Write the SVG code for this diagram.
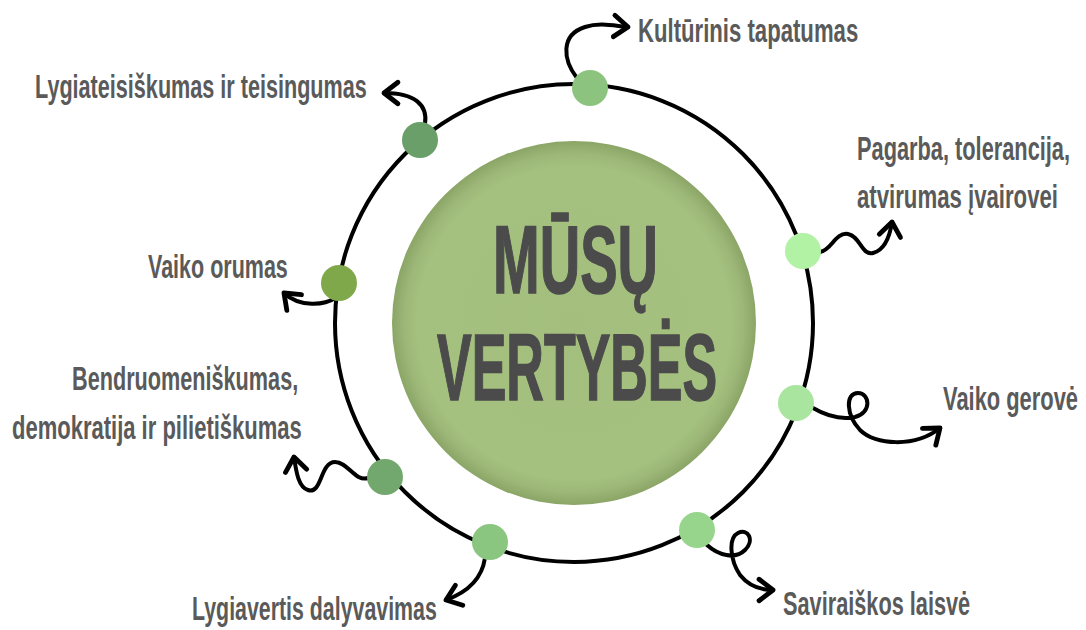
<svg xmlns="http://www.w3.org/2000/svg" width="1086" height="630" viewBox="0 0 1086 630">
<style>
.lbl{font-family:"Liberation Sans",Arial,sans-serif;font-weight:bold;font-size:34px;fill:#5a5a5a}
.big{font-family:"Liberation Sans",Arial,sans-serif;font-weight:bold;fill:#4b4b4b;stroke:#4b4b4b;stroke-width:1.5}
.con{fill:none;stroke:#000;stroke-width:4;stroke-linecap:round;stroke-linejoin:round}
.dot{stroke:none}
</style>
<defs>
<radialGradient id="g" cx="0.5" cy="0.5" r="0.5">
<stop offset="0" stop-color="#a4bf7d"/>
<stop offset="0.86" stop-color="#a5c17f"/>
<stop offset="0.93" stop-color="#9cb777"/>
<stop offset="1" stop-color="#8aa565"/>
</radialGradient>
<marker id="ah" markerUnits="userSpaceOnUse" markerWidth="30" markerHeight="30" viewBox="-16 -14 20 28" refX="0" refY="0" orient="auto">
<path d="M-13,-10 L0,0 L-13,10" fill="none" stroke="#000" stroke-width="4.5" stroke-linecap="round" stroke-linejoin="round"/>
</marker>
</defs>
<rect width="1086" height="630" fill="#fff"/>
<g id="ring">
<circle cx="574" cy="323" r="239" fill="none" stroke="#000" stroke-width="4"/>
</g>
<g id="center">
<circle cx="574" cy="323" r="182" fill="url(#g)"/>
<text class="big" transform="translate(493,293) scale(0.6,1)" font-size="96" textLength="275" lengthAdjust="spacingAndGlyphs">MŪSŲ</text>
<text class="big" transform="translate(437,400) scale(0.6,1)" font-size="94" textLength="467" lengthAdjust="spacingAndGlyphs">VERTYBĖS</text>
</g>
<g id="connectors">
<path class="con" marker-end="url(#ah)" d="M577,78 C563,60 560,35 585,27 C600,22 615,26 628,27"/>
<path class="con" marker-end="url(#ah)" d="M425,124 C428,105 415,93 384,93"/>
<path class="con" marker-end="url(#ah)" d="M820,252 C832,250 835,232 848,234 C860,236 862,256 873,253 C885,250 890,235 892,222"/>
<path class="con" marker-end="url(#ah)" d="M335,298 C325,305 300,308 284,293"/>
<path class="con" marker-end="url(#ah)" d="M368,478 C355,482 348,462 335,462 C320,462 322,495 308,490 C298,487 296,470 294,457"/>
<path class="con" marker-end="url(#ah)" d="M813,408 C825,415 840,420 855,417 C872,413 870,393 858,393 C845,393 846,415 860,430 C875,445 915,448 940,428"/>
<path class="con" marker-end="url(#ah)" d="M485,558 C482,578 468,592 446,600"/>
<path class="con" marker-end="url(#ah)" d="M707,545 C718,555 735,560 745,550 C755,540 748,528 738,533 C728,538 730,560 740,575 C748,585 760,590 773,590"/>
</g>
<g id="n-kulturinis">
<circle class="dot" cx="590" cy="88" r="18" fill="#8cc47f"/>
<text class="lbl" transform="translate(638,42) scale(0.6,1)" font-size="37" textLength="367" lengthAdjust="spacingAndGlyphs">Kultūrinis tapatumas</text>
</g>
<g id="n-lygiateisiskumas">
<circle class="dot" cx="420" cy="140" r="18" fill="#6a9f6a"/>
<text class="lbl" transform="translate(35,98) scale(0.6,1)" textLength="553" lengthAdjust="spacingAndGlyphs">Lygiateisiškumas ir teisingumas</text>
</g>
<g id="n-pagarba">
<circle class="dot" cx="803" cy="251" r="18" fill="#b2f2a5"/>
<text class="lbl" transform="translate(857,160) scale(0.6,1)" textLength="355" lengthAdjust="spacingAndGlyphs">Pagarba, tolerancija,</text>
<text class="lbl" transform="translate(857,208) scale(0.6,1)" textLength="335" lengthAdjust="spacingAndGlyphs">atvirumas įvairovei</text>
</g>
<g id="n-vaiko-orumas">
<circle class="dot" cx="339" cy="283" r="18" fill="#7fa84a"/>
<text class="lbl" transform="translate(148,278) scale(0.6,1)" textLength="233" lengthAdjust="spacingAndGlyphs">Vaiko orumas</text>
</g>
<g id="n-bendruomeniskumas">
<circle class="dot" cx="385" cy="477" r="18" fill="#72a86e"/>
<text class="lbl" transform="translate(72,390) scale(0.6,1)" textLength="377" lengthAdjust="spacingAndGlyphs">Bendruomeniškumas,</text>
<text class="lbl" transform="translate(12,439) scale(0.6,1)" textLength="483" lengthAdjust="spacingAndGlyphs">demokratija ir pilietiškumas</text>
</g>
<g id="n-vaiko-gerove">
<circle class="dot" cx="796" cy="403" r="18" fill="#a9e59f"/>
<text class="lbl" transform="translate(943,410) scale(0.6,1)" textLength="225" lengthAdjust="spacingAndGlyphs">Vaiko gerovė</text>
</g>
<g id="n-lygiavertis">
<circle class="dot" cx="490" cy="542" r="18" fill="#8bc680"/>
<text class="lbl" transform="translate(192,620) scale(0.6,1)" textLength="408" lengthAdjust="spacingAndGlyphs">Lygiavertis dalyvavimas</text>
</g>
<g id="n-saviraiskos">
<circle class="dot" cx="697" cy="530" r="18" fill="#98d58c"/>
<text class="lbl" transform="translate(783,615) scale(0.6,1)" textLength="312" lengthAdjust="spacingAndGlyphs">Saviraiškos laisvė</text>
</g>
</svg>
